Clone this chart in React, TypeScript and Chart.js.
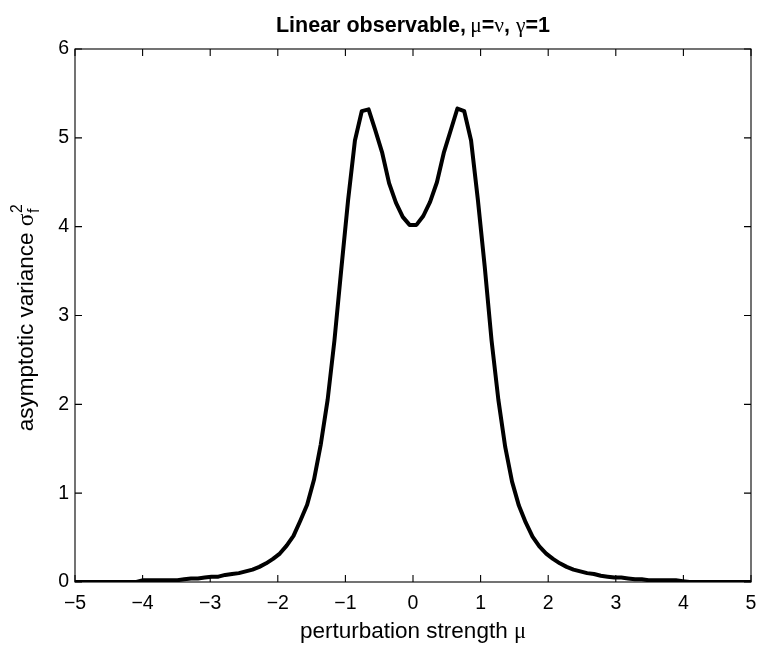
import React, { useEffect, useRef } from 'react';
import { Chart, registerables } from 'chart.js';

Chart.register(...registerables);

// ---------------- data ----------------
const muValues: number[] = [
  -5.000, -4.899, -4.798, -4.697, -4.596, -4.495, -4.394, -4.293, -4.192, -4.091,
  -3.990, -3.889, -3.788, -3.687, -3.586, -3.485, -3.384, -3.283, -3.182, -3.081,
  -2.980, -2.879, -2.778, -2.677, -2.576, -2.475, -2.374, -2.273, -2.172, -2.071,
  -1.970, -1.869, -1.768, -1.667, -1.566, -1.465, -1.364, -1.263, -1.162, -1.061,
  -0.960, -0.859, -0.758, -0.657, -0.556, -0.455, -0.354, -0.253, -0.152, -0.051,
  0.051, 0.152, 0.253, 0.354, 0.455, 0.556, 0.657, 0.758, 0.859, 0.960,
  1.061, 1.162, 1.263, 1.364, 1.465, 1.566, 1.667, 1.768, 1.869, 1.970,
  2.071, 2.172, 2.273, 2.374, 2.475, 2.576, 2.677, 2.778, 2.879, 2.980,
  3.081, 3.182, 3.283, 3.384, 3.485, 3.586, 3.687, 3.788, 3.889, 3.990,
  4.091, 4.192, 4.293, 4.394, 4.495, 4.596, 4.697, 4.798, 4.899, 5.000,
];

const varianceValues: number[] = [
  0.00, 0.00, 0.00, 0.00, 0.00, 0.00, 0.00, 0.00, 0.00, 0.00,
  0.02, 0.02, 0.02, 0.02, 0.02, 0.02, 0.03, 0.04, 0.04, 0.05,
  0.06, 0.06, 0.08, 0.09, 0.10, 0.12, 0.14, 0.17, 0.21, 0.26,
  0.32, 0.41, 0.52, 0.69, 0.87, 1.15, 1.55, 2.05, 2.72, 3.52,
  4.30, 4.97, 5.30, 5.32, 5.08, 4.83, 4.49, 4.27, 4.11, 4.02,
  4.02, 4.12, 4.28, 4.50, 4.83, 5.08, 5.33, 5.30, 4.97, 4.30,
  3.55, 2.72, 2.05, 1.52, 1.13, 0.86, 0.67, 0.51, 0.40, 0.32,
  0.26, 0.21, 0.17, 0.14, 0.12, 0.10, 0.09, 0.07, 0.06, 0.05,
  0.05, 0.04, 0.03, 0.03, 0.02, 0.02, 0.02, 0.02, 0.02, 0.01,
  0.00, 0.00, 0.00, 0.00, 0.00, 0.00, 0.00, 0.00, 0.00, 0.00,
];

const xTicks: number[] = [-5, -4, -3, -2, -1, 0, 1, 2, 3, 4, 5];
const yTicks: number[] = [0, 1, 2, 3, 4, 5, 6];

const titleMain = 'Linear observable,';
const titleGreek = ['μ', '=', 'ν', ',', ' ', 'γ', '=', '1'];
const xLabelText = 'perturbation strength ';
const xLabelGreek = 'μ';
const yLabelText = 'asymptotic variance ';
const yLabelGreek = 'σ';
const yLabelSub = 'f';
const yLabelSup = '2';

// ---------------- layout ----------------
const W = 774;
const H = 658;
const SANS = "'Liberation Sans', Arial, Helvetica, sans-serif";
const SERIF = "'Liberation Serif', 'Times New Roman', serif";
const TICK_SIZE = 19.5;
const LABEL_SIZE = 22.5;
const TITLE_SIZE = 21.5;

const boxPlugin = {
  id: 'matlabBox',
  afterDraw(chart: any) {
    const { ctx, chartArea } = chart;
    const { left, right, top, bottom } = chartArea;
    const xs = chart.scales.x;
    const ys = chart.scales.y;
    ctx.save();
    ctx.strokeStyle = '#000';
    ctx.lineWidth = 1.1;
    ctx.strokeRect(left, top, right - left, bottom - top);
    const tl = 7;
    ctx.beginPath();
    xTicks.forEach((v) => {
      const px = xs.getPixelForValue(v);
      ctx.moveTo(px, bottom);
      ctx.lineTo(px, bottom - tl);
      ctx.moveTo(px, top);
      ctx.lineTo(px, top + tl);
    });
    yTicks.forEach((v) => {
      const py = ys.getPixelForValue(v);
      ctx.moveTo(left, py);
      ctx.lineTo(left + tl, py);
      ctx.moveTo(right, py);
      ctx.lineTo(right - tl, py);
    });
    ctx.stroke();

    ctx.fillStyle = '#000';
    ctx.textBaseline = 'alphabetic';
    ctx.textAlign = 'left';

    // title
    const tParts: { t: string; f: string }[] = [
      { t: titleMain, f: `bold ${TITLE_SIZE}px ${SANS}` },
      { t: '\u2009', f: `bold ${TITLE_SIZE}px ${SANS}` },
    ];
    titleGreek.forEach((t) => {
      const isGreek = /[μνγ]/.test(t);
      tParts.push({ t, f: isGreek ? `${TITLE_SIZE}px ${SERIF}` : `bold ${TITLE_SIZE}px ${SANS}` });
    });
    let total = 0;
    tParts.forEach((p) => {
      ctx.font = p.f;
      total += ctx.measureText(p.t).width;
    });
    let cx = (left + right) / 2 - total / 2;
    tParts.forEach((p) => {
      ctx.font = p.f;
      ctx.fillText(p.t, cx, 32);
      cx += ctx.measureText(p.t).width;
    });

    // x label
    ctx.font = `${LABEL_SIZE}px ${SANS}`;
    const w1 = ctx.measureText(xLabelText).width;
    ctx.font = `${LABEL_SIZE}px ${SERIF}`;
    const w2 = ctx.measureText(xLabelGreek).width;
    const lx = (left + right) / 2 - (w1 + w2) / 2;
    ctx.font = `${LABEL_SIZE}px ${SANS}`;
    ctx.fillText(xLabelText, lx, 638);
    ctx.font = `${LABEL_SIZE}px ${SERIF}`;
    ctx.fillText(xLabelGreek, lx + w1, 638);

    // y label (rotated)
    const subSize = LABEL_SIZE * 0.7;
    ctx.save();
    ctx.translate(33, 318);
    ctx.rotate(-Math.PI / 2);
    ctx.font = `${LABEL_SIZE}px ${SANS}`;
    const a1 = ctx.measureText(yLabelText).width;
    ctx.font = `${LABEL_SIZE + 1}px ${SERIF}`;
    const a2 = ctx.measureText(yLabelGreek).width;
    ctx.font = `${subSize}px ${SANS}`;
    const a3 = Math.max(ctx.measureText(yLabelSub).width, ctx.measureText(yLabelSup).width);
    let yx = -(a1 + a2 + a3) / 2;
    ctx.font = `${LABEL_SIZE}px ${SANS}`;
    ctx.fillText(yLabelText, yx, 0);
    yx += a1;
    ctx.font = `${LABEL_SIZE + 1}px ${SERIF}`;
    ctx.fillText(yLabelGreek, yx, 0);
    yx += a2 + 0.5;
    ctx.font = `${subSize}px ${SANS}`;
    ctx.fillText(yLabelSub, yx, 6);
    ctx.fillText(yLabelSup, yx, -11);
    ctx.restore();

    ctx.restore();
  },
};

export default function App() {
  const ref = useRef<HTMLCanvasElement>(null);
  useEffect(() => {
    if (!ref.current) return;
    const chart = new Chart(ref.current, {
      type: 'line',
      data: {
        datasets: [
          {
            data: muValues.map((x, i) => ({ x, y: varianceValues[i] })),
            borderColor: '#000',
            borderWidth: 4,
            pointRadius: 0,
            tension: 0,
            fill: false,
            borderJoinStyle: 'round',
            borderCapStyle: 'round',
          },
        ],
      },
      options: {
        animation: false,
        responsive: false,
        devicePixelRatio: 1,
        events: [],
        layout: { padding: { top: 49, right: W - 751, left: 0, bottom: 0 } },
        plugins: {
          legend: { display: false },
          title: { display: false },
          tooltip: { enabled: false },
        },
        scales: {
          x: {
            type: 'linear',
            min: -5,
            max: 5,
            afterBuildTicks: (scale: any) => {
              scale.ticks = xTicks.map((v) => ({ value: v }));
            },
            afterFit: (scale: any) => {
              scale.height = H - 582;
            },
            grid: { display: false, drawTicks: false, tickLength: 0 },
            border: { display: false },
            ticks: {
              color: '#000',
              padding: 10,
              maxRotation: 0,
              autoSkip: false,
              font: { family: SANS, size: TICK_SIZE },
              callback: (v: any) => String(v).replace('-', '\u2212'),
            },
          },
          y: {
            type: 'linear',
            min: 0,
            max: 6,
            afterBuildTicks: (scale: any) => {
              scale.ticks = yTicks.map((v) => ({ value: v }));
            },
            afterFit: (scale: any) => {
              scale.width = 75;
            },
            grid: { display: false, drawTicks: false, tickLength: 0 },
            border: { display: false },
            ticks: {
              color: '#000',
              padding: 6,
              autoSkip: false,
              font: { family: SANS, size: TICK_SIZE },
              callback: (v: any) => String(v),
            },
          },
        },
      },
      plugins: [boxPlugin],
    } as any);
    return () => chart.destroy();
  }, []);

  return (
    <div
      style={{
        position: 'absolute',
        left: 0,
        top: 0,
        width: W,
        height: H,
        overflow: 'hidden',
        background: '#fff',
      }}
    >
      <canvas ref={ref} width={W} height={H} style={{ display: 'block', width: W, height: H }} />
    </div>
  );
}
